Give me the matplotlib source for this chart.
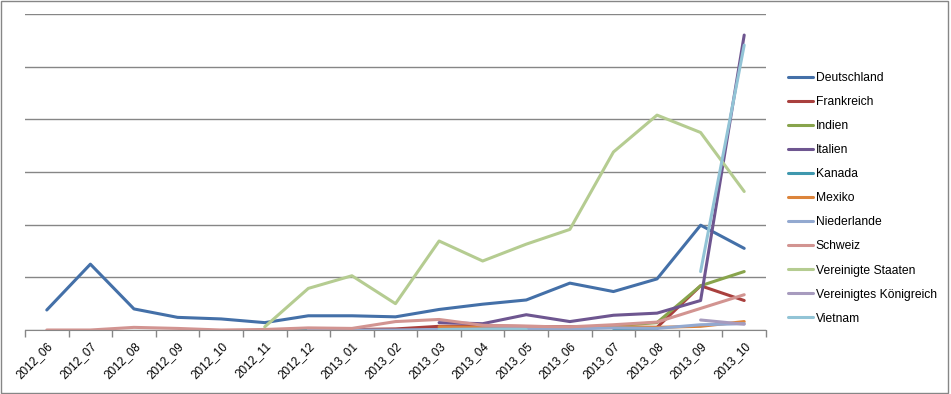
import numpy as np
import matplotlib
matplotlib.use("Agg")
import matplotlib.pyplot as plt

nan = np.nan
months = ["2012_06", "2012_07", "2012_08", "2012_09", "2012_10", "2012_11",
          "2012_12", "2013_01", "2013_02", "2013_03", "2013_04", "2013_05",
          "2013_06", "2013_07", "2013_08", "2013_09", "2013_10"]

deutschland = [0.38, 1.25, 0.40, 0.24, 0.21, 0.14, 0.27, 0.27, 0.25, 0.39, 0.49, 0.57, 0.89, 0.73, 0.97, 1.99, 1.55]
frankreich = [nan, nan, nan, nan, nan, nan, 0.0, 0.01, 0.02, 0.07, 0.08, 0.07, 0.06, 0.05, 0.05, 0.84, 0.56]
indien = [nan, nan, nan, nan, nan, nan, nan, nan, nan, 0.02, 0.03, 0.03, 0.04, 0.08, 0.14, 0.84, 1.11]
italien = [nan, nan, nan, nan, nan, nan, nan, nan, nan, 0.14, 0.12, 0.29, 0.16, 0.28, 0.32, 0.56, 5.60]
kanada = [nan, nan, nan, nan, nan, 0.0, 0.02, nan, nan, nan, nan, nan, nan, 0.03, 0.0, nan, nan]
mexiko = [nan, nan, nan, nan, nan, nan, nan, nan, nan, 0.06, 0.05, 0.05, 0.03, 0.06, 0.05, 0.07, 0.16]
niederlande = [nan, nan, nan, nan, nan, nan, 0.0, 0.0, 0.0, 0.01, 0.02, 0.03, 0.02, 0.04, 0.03, 0.10, 0.12]
schweiz = [0.0, 0.0, 0.05, 0.03, 0.0, 0.01, 0.04, 0.03, 0.16, 0.20, 0.09, 0.07, 0.06, 0.10, 0.15, 0.41, 0.67]
usa = [nan, nan, nan, nan, nan, 0.06, 0.79, 1.03, 0.50, 1.69, 1.31, 1.63, 1.91, 3.38, 4.08, 3.75, 2.63]
uk = [nan, nan, nan, nan, nan, nan, nan, nan, nan, nan, nan, nan, nan, nan, nan, 0.19, 0.11]
vietnam = [nan, nan, nan, nan, nan, nan, nan, nan, nan, 0.01, 0.01, 0.01, nan, nan, nan, 1.11, 5.41]

series = [
    ("Deutschland", deutschland, "#4470A8"),
    ("Frankreich", frankreich, "#A9403E"),
    ("Indien", indien, "#88A44C"),
    ("Italien", italien, "#6E5690"),
    ("Kanada", kanada, "#3F98AE"),
    ("Mexiko", mexiko, "#DC843B"),
    ("Niederlande", niederlande, "#93A9D0"),
    ("Schweiz", schweiz, "#D29491"),
    ("Vereinigte Staaten", usa, "#B5CC91"),
    ("Vereinigtes Königreich", uk, "#A79BBE"),
    ("Vietnam", vietnam, "#92C4D6"),
]

plt.rcParams['font.family'] = ['Liberation Sans', 'DejaVu Sans']

fig = plt.figure(figsize=(9.51, 3.94), dpi=100)
ax = fig.add_axes([25 / 951, 64 / 394, 741 / 951, 316 / 394])

x = np.arange(len(months))
for name, vals, col in series:
    ax.plot(x, vals, color=col, lw=2.2, label=name, solid_capstyle="round")

ax.set_xlim(-0.5, len(months) - 0.5)
ax.set_ylim(0, 6)
ax.set_yticks(np.arange(0, 7, 1))
ax.set_yticklabels([])
ax.tick_params(axis="y", length=0)
ax.grid(axis="y", color="#868686", lw=1)
ax.set_axisbelow(True)

ax.set_xticks(x)
ax.set_xticklabels(months, rotation=45, ha="right", va="top",
                   rotation_mode="anchor", fontsize=8.5)
ax.tick_params(axis="x", which="major", length=0, pad=7)
ax.set_xticks(np.arange(-0.5, len(months)), minor=True)
ax.tick_params(axis="x", which="minor", length=5, color="#868686", width=1)

for s in ["left", "right", "top"]:
    ax.spines[s].set_visible(False)
ax.spines["bottom"].set_color("#868686")

leg = fig.legend(loc="upper left", bbox_to_anchor=(777 / 951, 1 - 61 / 394),
                 frameon=False, fontsize=8.7, handlelength=2.1,
                 handletextpad=0.2, labelspacing=1.0)

fig.patches.append(plt.Rectangle((0.001, 0.002), 0.996, 0.995, transform=fig.transFigure,
                                 fill=False, edgecolor="#868686", lw=1))

fig.savefig("out.png", dpi=100, facecolor="white")
